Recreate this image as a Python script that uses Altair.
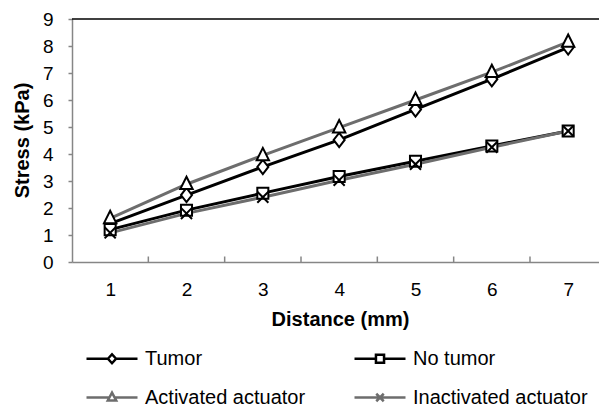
import altair as alt
import pandas as pd

# ---------------- data ----------------
distance = [1, 2, 3, 4, 5, 6, 7]
series = ["Tumor", "No tumor", "Activated actuator", "Inactivated actuator"]
tumor = [1.42, 2.48, 3.52, 4.52, 5.65, 6.77, 7.95]
no_tumor = [1.20, 1.92, 2.55, 3.17, 3.73, 4.30, 4.85]
activated = [1.62, 2.88, 3.95, 4.98, 6.00, 7.03, 8.15]
inactivated = [1.08, 1.80, 2.40, 3.03, 3.62, 4.25, 4.85]
y_ticks = [0, 1, 2, 3, 4, 5, 6, 7, 8, 9]
x_category_ticks = [1.5, 2.5, 3.5, 4.5, 5.5, 6.5]
top_value = [9]

values = [tumor, no_tumor, activated, inactivated]

# ---------------- styles ----------------
FONT = "Liberation Sans"
AXIS_GRAY = "#868686"
line_colors = ["#000000", "#000000", "#6d6d6d", "#6d6d6d"]
marker_paths = [
    "M0,-1.1L0.85,0L0,1.1L-0.85,0Z",
    "M-0.85,-0.85L0.85,-0.85L0.85,0.85L-0.85,0.85Z",
    "M0,-1.15L0.95,0.75L-0.95,0.75Z",
    "M-0.85,-0.85L0.85,0.85M-0.85,0.85L0.85,-0.85",
]
legend_paths = [
    "M-1,0L0.43,0M0.97,0L2.4,0M0.43,0L0.7,-0.3L0.97,0L0.7,0.3Z",
    "M-1,0L0.43,0M0.97,0L2.4,0M0.43,-0.27L0.97,-0.27L0.97,0.27L0.43,0.27Z",
    "M-1,0L0.55,0M0.85,0L2.4,0M0.7,-0.32L0.98,0.2L0.42,0.2Z",
    "M-1,0L2.4,0M0.45,-0.25L0.95,0.25M0.45,0.25L0.95,-0.25",
]

rows = []
for s, vals in zip(series, values):
    for d, v in zip(distance, vals):
        rows.append({"distance": d, "stress": v, "series": s})
df = pd.DataFrame(rows)
ticks_df = pd.DataFrame({"t": x_category_ticks})
top_df = pd.DataFrame({"top": top_value})

xscale = alt.Scale(domain=[0.5, 7.404], nice=False, zero=False)
yscale = alt.Scale(domain=[0, 9], nice=False, zero=True)


def xenc(field):
    return alt.X(
        f"{field}:Q",
        scale=xscale,
        axis=alt.Axis(
            values=distance, ticks=False, tickSize=0, grid=False, format="d",
            labelFont=FONT, labelFontSize=19, labelColor="black", labelPadding=18,
            domainColor=AXIS_GRAY, domainWidth=1.5,
            title="Distance (mm)", titleFont=FONT, titleFontSize=20,
            titleFontWeight="bold", titleColor="black", titleX=268, titleY=63,
            titleAlign="center", titleBaseline="alphabetic",
        ),
    )


def yenc(field):
    return alt.Y(
        f"{field}:Q",
        scale=yscale,
        axis=alt.Axis(
            values=y_ticks, ticks=True, tickSize=4, tickColor=AXIS_GRAY, tickWidth=1.5,
            grid=False, format="d",
            labelFont=FONT, labelFontSize=19, labelColor="black", labelPadding=15,
            domainColor=AXIS_GRAY, domainWidth=1.5,
            title="Stress (kPa)", titleFont=FONT, titleFontSize=20,
            titleFontWeight="bold", titleColor="black", titleX=-44, titleY=121,
            titleAlign="center", titleBaseline="alphabetic", titleAngle=270,
        ),
    )


layers = []

# top border line at 9
layers.append(
    alt.Chart(top_df).mark_rule(color="black", strokeWidth=1.5).encode(y=yenc("top"))
)

# category tick marks (inside, at bottom)
layers.append(
    alt.Chart(ticks_df).mark_rule(color=AXIS_GRAY, strokeWidth=1.5).encode(
        x=xenc("t"), y=alt.value(243), y2=alt.value(237.5)
    )
)

# lines
for s, col in zip(series, line_colors):
    layers.append(
        alt.Chart(df).transform_filter(alt.datum.series == s)
        .mark_line(color=col, strokeWidth=3)
        .encode(x=xenc("distance"), y=yenc("stress"))
    )

# markers
for s, path in zip(series, marker_paths):
    layers.append(
        alt.Chart(df).transform_filter(alt.datum.series == s)
        .mark_point(shape=path, size=169, filled=False, fill="white", fillOpacity=1,
                    stroke="black", strokeWidth=2, opacity=1)
        .encode(x=xenc("distance"), y=yenc("stress"))
    )

# legend-only layer
leg = alt.Legend(
    title=None, orient="none", legendX=13, legendY=323, direction="horizontal",
    columns=2, symbolSize=900, symbolStrokeWidth=2.5, symbolFillColor="transparent",
    symbolOpacity=1,
    labelFont=FONT, labelFontSize=20, labelColor="black", labelLimit=400,
    labelOffset=27, columnPadding=43, rowPadding=12, padding=0,
)
layers.append(
    alt.Chart(df).transform_filter("false")
    .mark_point(filled=False, strokeWidth=2.5, opacity=1)
    .encode(
        x=xenc("distance"), y=yenc("stress"),
        color=alt.Color("series:N", scale=alt.Scale(domain=series, range=line_colors), legend=leg),
        shape=alt.Shape("series:N", scale=alt.Scale(domain=series, range=legend_paths), legend=leg),
    )
)

chart = alt.layer(*layers).properties(
    width=527, height=243,
    autosize=alt.AutoSizeParams(type="none"),
    padding={"left": 72, "top": 19, "right": 0, "bottom": 150},
    background="white",
).configure_view(stroke=None)

chart.save("out.html", embed_options={"renderer": "svg", "actions": False})
